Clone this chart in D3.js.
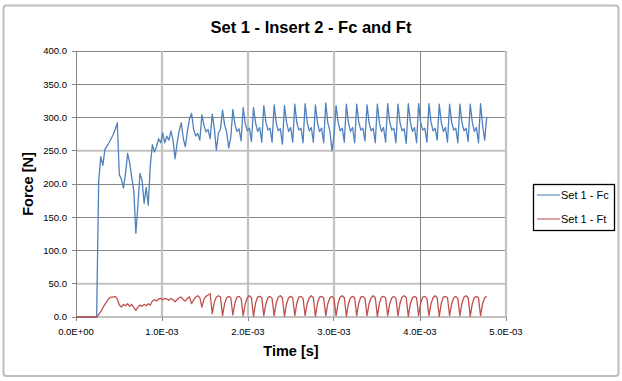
<!DOCTYPE html>
<html>
<head>
<meta charset="utf-8">
<script src="https://cdn.jsdelivr.net/npm/d3@7"></script>
<style>
  body { margin: 0; background: #fff; }
  text { font-family: "Liberation Sans", Arial, sans-serif; fill: #000; }
</style>
</head>
<body>
<div id="chart"></div>
<script>
// sampling interval of the force signal (s)
const sampleStep = 0.024e-3;

// Set 1 - Fc [N], one value per sample
const fcValues = [
  0, 0, 0, 0, 0, 0, 0, 0, 0, 0,
  0, 205, 241, 228, 252, 257, 262, 268, 274, 282,
  292, 214, 207, 194, 216, 246, 232, 210, 190, 126,
  168, 216, 205, 171, 195, 168, 228, 259, 248, 256,
  268, 262, 277, 262, 272, 266, 280, 266, 238, 262,
  280, 292, 268, 256, 280, 298, 306, 282, 272, 276,
  266, 304, 288, 278, 282, 268, 305, 284, 251, 276,
  283, 311, 289, 278, 254, 270, 312, 290, 279, 283,
  265, 315, 291, 280, 284, 264, 315, 292, 279, 285,
  263, 318, 293, 281, 284, 263, 319, 292, 280, 283,
  260, 318, 293, 279, 285, 263, 320, 292, 281, 284,
  262, 321, 293, 280, 285, 263, 319, 292, 279, 284,
  262, 322, 292, 280, 250, 272, 318, 293, 280, 284,
  263, 320, 292, 279, 285, 262, 320, 293, 281, 284,
  265, 319, 292, 280, 284, 262, 320, 292, 279, 285,
  263, 321, 293, 281, 284, 262, 320, 292, 280, 283,
  261, 321, 293, 279, 285, 262, 321, 292, 281, 284,
  263, 321, 293, 280, 284, 266, 320, 292, 279, 285,
  263, 320, 293, 281, 284, 262, 320, 292, 280, 284,
  264, 320, 293, 279, 285, 262, 321, 288, 266, 301
];

// Set 1 - Ft [N], one value per sample
const ftValues = [
  0, 0, 0, 0, 0, 0, 0, 0, 0, 0,
  0, 4, 8, 14, 19, 24, 28, 30, 30, 31,
  27, 18, 15, 19, 17, 20, 16, 19, 14, 10,
  15, 18, 16, 19, 17, 20, 18, 24, 26, 24,
  27, 28, 26, 28, 27, 25, 28, 26, 23, 26,
  29, 30, 26, 24, 28, 30, 20, 26, 30, 32,
  29, 15, 27, 31, 33, 35, 5, 22, 30, 32,
  30, 2, 20, 29, 31, 29, 3, 21, 30, 31,
  28, 2, 20, 29, 32, 29, 1, 21, 30, 31,
  29, 2, 20, 29, 31, 28, 2, 21, 30, 32,
  29, 1, 20, 29, 31, 29, 2, 21, 30, 31,
  28, 2, 20, 29, 32, 29, 1, 21, 30, 31,
  29, 2, 20, 29, 31, 28, 2, 21, 30, 32,
  29, 1, 20, 29, 31, 29, 2, 21, 30, 31,
  28, 2, 20, 29, 32, 29, 1, 21, 30, 31,
  29, 2, 20, 29, 31, 28, 2, 21, 30, 32,
  29, 1, 20, 29, 31, 29, 2, 21, 30, 31,
  28, 2, 20, 29, 32, 29, 1, 21, 30, 31,
  29, 2, 20, 29, 31, 28, 2, 21, 30, 32,
  29, 1, 20, 29, 31, 29, 2, 20, 29, 31
];

const seriesNames = ["Set 1 - Fc", "Set 1 - Ft"];
const seriesColors = ["#4F81BD", "#C0504D"];

const yTicks = [0, 50, 100, 150, 200, 250, 300, 350, 400];
const xTicks = [0, 1e-3, 2e-3, 3e-3, 4e-3, 5e-3];

// gridlines that look soft/wide in the original picture
const softYTicks = [0, 50, 250];
const softXTicks = [1e-3, 2e-3, 3e-3, 5e-3];

const chartTitle = "Set 1 - Insert 2 - Fc and Ft";
const xTitle = "Time [s]";
const yTitle = "Force [N]";

drawChart();

function sciFormat(v) {
    if (v === 0) return "0.0E+00";
    const e = Math.floor(Math.log10(Math.abs(v)) + 1e-9);
    const m = v / Math.pow(10, e);
    const sign = e < 0 ? "-" : "+";
    return m.toFixed(1) + "E" + sign + String(Math.abs(e)).padStart(2, "0");
}

function drawChart() {
    const W = 622, H = 381;
    const plot = { left: 76, right: 506, top: 51, bottom: 317 };

    const svg = d3.select("#chart").append("svg")
        .attr("width", W)
        .attr("height", H);

    svg.append("rect")
        .attr("width", W).attr("height", H)
        .attr("fill", "#fff");

    // outer chart frame
    svg.append("rect")
        .attr("x", 3.5).attr("y", 5.5)
        .attr("width", 615).attr("height", 370.5)
        .attr("rx", 3)
        .attr("fill", "#fff")
        .attr("stroke", "#bdbdbd")
        .attr("stroke-width", 2);

    const x = d3.scaleLinear().domain([0, 5e-3]).range([plot.left, plot.right]);
    const y = d3.scaleLinear().domain([0, 400]).range([plot.bottom, plot.top]);

    const crisp = v => Math.floor(v) + 0.5;

    const grid = svg.append("g");

    // horizontal gridlines
    yTicks.forEach(t => {
        const soft = softYTicks.includes(t);
        const yy = soft ? y(t) : crisp(y(t));
        grid.append("line")
            .attr("x1", plot.left).attr("x2", plot.right)
            .attr("y1", yy).attr("y2", yy)
            .attr("stroke", soft ? "#c2c2c2" : "#868686")
            .attr("stroke-width", soft ? 2.2 : 1);
    });

    // vertical gridlines
    xTicks.forEach(t => {
        const soft = softXTicks.includes(t);
        const xx = soft ? x(t) : crisp(x(t));
        grid.append("line")
            .attr("x1", xx).attr("x2", xx)
            .attr("y1", plot.top).attr("y2", plot.bottom)
            .attr("stroke", soft ? "#c2c2c2" : "#868686")
            .attr("stroke-width", soft ? 2.2 : 1);
    });

    // axis tick marks
    yTicks.forEach(t => {
        grid.append("line")
            .attr("x1", plot.left - 4).attr("x2", plot.left)
            .attr("y1", crisp(y(t))).attr("y2", crisp(y(t)))
            .attr("stroke", "#868686");
    });
    xTicks.forEach(t => {
        grid.append("line")
            .attr("x1", crisp(x(t))).attr("x2", crisp(x(t)))
            .attr("y1", plot.bottom).attr("y2", plot.bottom + 4)
            .attr("stroke", "#868686");
    });

    // tick labels
    svg.append("g").selectAll("text")
        .data(yTicks)
        .join("text")
        .attr("x", plot.left - 9)
        .attr("y", d => y(d) + 3.3)
        .attr("text-anchor", "end")
        .style("font-size", "9.5px")
        .text(d => d3.format(".1f")(d));

    svg.append("g").selectAll("text")
        .data(xTicks)
        .join("text")
        .attr("x", d => x(d))
        .attr("y", 335)
        .attr("text-anchor", "middle")
        .style("font-size", "9.5px")
        .text(d => sciFormat(d));

    // series
    const line = d3.line()
        .x((d, i) => x(i * sampleStep))
        .y(d => y(d));

    [fcValues, ftValues].forEach((vals, k) => {
        svg.append("path")
            .datum(vals)
            .attr("d", line)
            .attr("fill", "none")
            .attr("stroke", seriesColors[k])
            .attr("stroke-width", 1.3)
            .attr("stroke-linejoin", "round");
    });

    // titles
    svg.append("text")
        .attr("x", 311).attr("y", 33)
        .attr("text-anchor", "middle")
        .style("font-size", "16.5px")
        .style("font-weight", "bold")
        .text(chartTitle);

    svg.append("text")
        .attr("x", (plot.left + plot.right) / 2).attr("y", 356)
        .attr("text-anchor", "middle")
        .style("font-size", "14.5px")
        .style("font-weight", "bold")
        .text(xTitle);

    svg.append("text")
        .attr("transform", `translate(33,${(plot.top + plot.bottom) / 2}) rotate(-90)`)
        .attr("text-anchor", "middle")
        .style("font-size", "14.5px")
        .style("font-weight", "bold")
        .text(yTitle);

    // legend
    const legend = svg.append("g");
    legend.append("rect")
        .attr("x", 533.5).attr("y", 184.5)
        .attr("width", 81).attr("height", 46)
        .attr("fill", "#fff")
        .attr("stroke", "#000")
        .attr("stroke-width", 1.3);

    seriesNames.forEach((name, k) => {
        const ly = 195 + k * 24;
        legend.append("line")
            .attr("x1", 537).attr("x2", 560)
            .attr("y1", ly).attr("y2", ly)
            .attr("stroke", seriesColors[k])
            .attr("stroke-opacity", 0.7)
            .attr("stroke-width", 1.5);
        legend.append("text")
            .attr("x", 561).attr("y", ly + 4)
            .style("font-size", "11px")
            .text(name);
    });
}
</script>
</body>
</html>
